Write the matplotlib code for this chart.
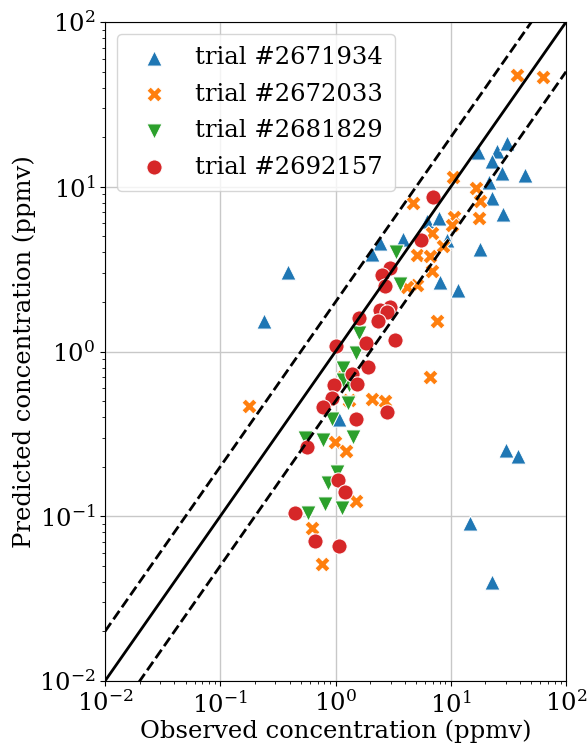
import matplotlib
matplotlib.use("Agg")
import matplotlib.pyplot as plt
import numpy as np

plt.rcParams['font.family'] = 'DejaVu Serif'
plt.rcParams['mathtext.fontset'] = 'dejavuserif'

# observed / predicted concentrations (ppmv)
obs_2671934 = [0.387, 0.240, 2.43, 2.07, 3.85, 6.22, 7.91, 9.28, 8.07, 11.56, 17.94, 22.8,
               21.5, 28.4, 27.8, 44.1, 17.2, 25.2, 30.8, 22.8, 30.2, 38.3, 14.7, 22.8, 1.07]
pred_2671934 = [3.04, 1.53, 4.56, 3.91, 4.82, 6.20, 6.46, 4.75, 2.64, 2.36, 4.19, 8.54,
                10.7, 6.84, 12.1, 11.8, 16.3, 16.5, 18.4, 14.3, 0.252, 0.232, 0.091, 0.040, 0.389]

obs_2672033 = [37.6, 63.2, 10.46, 4.70, 16.6, 17.9, 17.6, 10.7, 10.25, 6.88, 8.57, 5.10, 6.61, 6.88,
               5.10, 4.17, 7.60, 6.61, 2.07, 2.69, 0.178, 0.990, 1.23, 1.51, 0.625, 0.764, 1.16, 1.31]
pred_2672033 = [47.7, 46.4, 11.46, 7.97, 9.83, 8.19, 6.46, 6.55, 5.86, 5.24, 4.37, 3.85, 3.80, 3.08,
                2.53, 2.46, 1.53, 0.700, 0.515, 0.501, 0.467, 0.282, 0.249, 0.124, 0.085, 0.0513, 0.700, 0.508]

obs_2681829 = [3.35, 3.63, 1.60, 1.51, 1.16, 1.31, 1.28, 0.932, 0.544, 0.779, 1.42, 1.03,
               0.861, 0.811, 1.14, 0.577, 1.16]
pred_2681829 = [4.02, 2.57, 1.30, 0.979, 0.794, 0.626, 0.487, 0.389, 0.299, 0.290, 0.303, 0.186,
                0.159, 0.119, 0.112, 0.105, 0.671]

obs_2692157 = [7.02, 5.52, 2.97, 2.53, 2.69, 2.97, 2.43, 2.80, 2.34, 1.60, 1.84, 3.28, 1.01, 1.91,
               1.39, 0.971, 1.54, 0.932, 0.779, 1.51, 2.80, 0.566, 1.05, 1.21, 0.445, 0.664, 1.07]
pred_2692157 = [8.66, 4.75, 3.21, 2.91, 2.50, 1.86, 1.79, 1.74, 1.53, 1.60, 1.13, 1.17, 1.08, 0.805,
                0.730, 0.626, 0.635, 0.522, 0.460, 0.389, 0.429, 0.263, 0.166, 0.140, 0.105, 0.0708, 0.066]

trials = ['trial #2671934', 'trial #2672033', 'trial #2681829', 'trial #2692157']
markers = ['^', 'X', 'v', 'o']
colors = ['#1f77b4', '#ff7f0e', '#2ca02c', '#d62728']

fig = plt.figure(figsize=(5.88, 7.47), dpi=100)
ax = fig.add_axes([0.1786, 0.0884, 0.784, 0.882])

series = [(obs_2671934, pred_2671934), (obs_2672033, pred_2672033),
          (obs_2681829, pred_2681829), (obs_2692157, pred_2692157)]
for (xs, ys), lab, m, c in zip(series, trials, markers, colors):
    ax.scatter(xs, ys, s=120, marker=m, color=c, edgecolors='white', linewidths=0.75,
               label=lab, zorder=3)

line = np.array([1e-2, 1e2])
ax.plot(line, line, 'k-', lw=2, zorder=4)
ax.plot(line, 2 * line, 'k--', lw=2, zorder=4)
ax.plot(line, line / 2, 'k--', lw=2, zorder=4)

ax.set_xscale('log')
ax.set_yscale('log')
ax.set_xlim(1e-2, 1e2)
ax.set_ylim(1e-2, 1e2)
ax.grid(True, which='major', color='#c8c8c8', lw=1)
ax.set_axisbelow(True)
ax.tick_params(labelsize=17.5)
ax.set_xlabel('Observed concentration (ppmv)', fontsize=17.5, labelpad=2)
ax.set_ylabel('Predicted concentration (ppmv)', fontsize=17.5, labelpad=2)
ax.legend(loc='upper left', fontsize=17.5, borderpad=0.5, handletextpad=0.7,
          labelspacing=0.55)

fig.savefig('out.png', dpi=100)
